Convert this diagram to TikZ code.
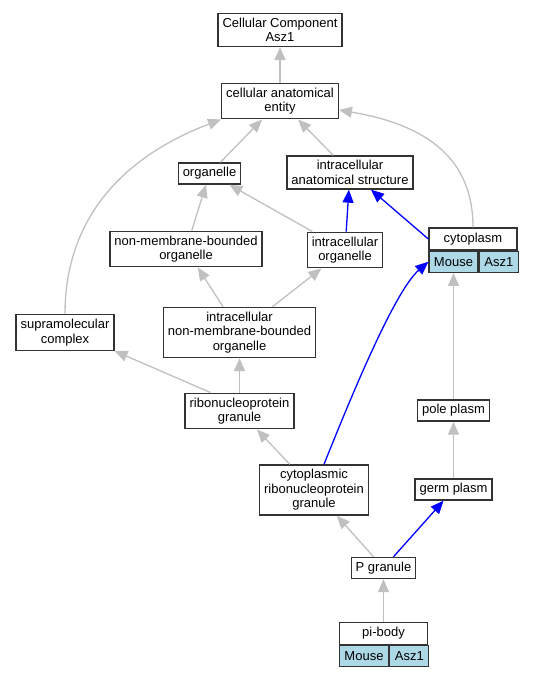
\documentclass[tikz,border=0pt]{standalone}
\usepackage{fontspec}
\setmainfont{Liberation Sans}
\usetikzlibrary{arrows.meta,positioning}
\definecolor{edgegray}{HTML}{C0C0C0}
\definecolor{lightblue}{HTML}{ADD8E6}
\begin{document}
\begin{tikzpicture}[x=1pt,y=-1pt,
  term/.style={draw=black!80,line width=1.3pt,fill=white,align=center,inner xsep=4.5pt,inner ysep=4.5pt,font=\fontsize{13}{14.5}\selectfont},
  species/.style={term,fill=lightblue,minimum height=21pt,inner xsep=2pt,inner ysep=2pt,anchor=north west},
  isa/.style={draw=edgegray,line width=1.3pt,-{Triangle[length=13pt,width=11pt]}},
  partof/.style={isa,draw=blue,-{Triangle[length=13pt,width=11pt,fill=blue]}}]
\useasboundingbox (0,0) rectangle (533,677);
% terms
\node[term] (cc) at (280,30) {Cellular Component\\Asz1};
\node[term] (cae) at (280,101) {cellular anatomical\\entity};
\node[term] (org) at (209.5,173.5) {organelle};
\node[term] (ias) at (350,172.5) {intracellular\\anatomical structure};
\node[term,minimum width=88pt,minimum height=22pt] (cyto) at (473,239) {cytoplasm};
\node[species,minimum width=49pt] (cytoM) at (cyto.south west) {Mouse};
\node[species,minimum width=39pt] (cytoA) at (cytoM.north east) {Asz1};
\node[term] (nmbo) at (186,249) {non-membrane-bounded\\organelle};
\node[term] (io) at (345,250) {intracellular\\organelle};
\node[term] (sc) at (65,332.5) {supramolecular\\complex};
\node[term] (inmbo) at (239.5,332.5) {intracellular\\non-membrane-bounded\\organelle};
\node[term] (rnpg) at (239.5,411) {ribonucleoprotein\\granule};
\node[term] (pole) at (453.5,410.5) {pole plasm};
\node[term] (crg) at (314,490) {cytoplasmic\\ribonucleoprotein\\granule};
\node[term] (germ) at (453.5,489.5) {germ plasm};
\node[term] (pg) at (383.5,568) {P granule};
\node[term,minimum width=88pt,minimum height=22pt] (pi) at (383.5,633.5) {pi-body};
\node[species,minimum width=49pt] (piM) at (pi.south west) {Mouse};
\node[species,minimum width=39pt] (piA) at (piM.north east) {Asz1};
% is_a
\draw[isa] (cae) -- (cc);
\draw[isa] (org) -- (cae);
\draw[isa] (ias) -- (cae);
\draw[isa] (cyto.north) .. controls +(0,-68) and +(89,15) .. ([yshift=-9pt]cae.east);
\draw[isa] (sc.north) .. controls +(0,-85) and +(-110,42) .. (cae.south west);
\draw[isa] (nmbo) -- (org);
\draw[isa] (io) -- (org);
\draw[isa] (inmbo) -- (nmbo);
\draw[isa] (inmbo) -- (io);
\draw[isa] ([xshift=-29pt]rnpg.north) -- (sc.south east);
\draw[isa] (rnpg) -- (inmbo);
\draw[isa] (crg) -- (rnpg);
\draw[isa] (pole.north) -- (cytoM.south);
\draw[isa] (germ) -- (pole);
\draw[isa] (pg) -- (crg);
\draw[isa] (pi) -- (pg);
% part_of
\draw[partof] (io) -- (ias);
\draw[partof] (cyto.west) -- ([xshift=21pt]ias.south);
\draw[partof] ([xshift=10pt]crg.north) .. controls +(26,-65) and +(-34,29.5) .. (cytoM.west);
\draw[partof] (pg) -- (germ);
\end{tikzpicture}
\end{document}
